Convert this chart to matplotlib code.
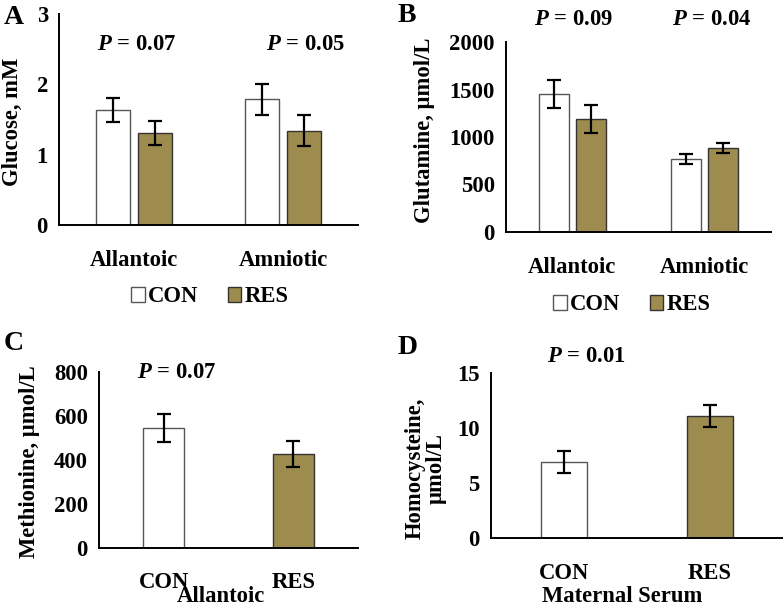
import matplotlib.pyplot as plt
from matplotlib.patches import Patch

plt.rcParams['font.family'] = ['Liberation Serif', 'DejaVu Serif']
plt.rcParams['font.weight'] = 'bold'
plt.rcParams['font.size'] = 16.3
plt.rcParams['mathtext.fontset'] = 'custom'
plt.rcParams['mathtext.bfit'] = 'Liberation Serif:italic:bold'
plt.rcParams['mathtext.it'] = 'Liberation Serif:italic:bold'

groups = ["CON", "RES"]
colors = ["white", "#9e8c4e"]
edges = ["#555555", "#333333"]

fluids = ["Allantoic", "Amniotic"]
glucose = [[1.63, 1.79], [1.31, 1.34]]
glucose_err = [[0.17, 0.22], [0.17, 0.22]]
glutamine = [[1450, 768], [1190, 885]]
glutamine_err = [[148, 52], [148, 57]]

methionine = [545, 427]
methionine_err = [62, 60]
homocysteine = [6.9, 11.1]
homocysteine_err = [1.0, 1.0]

W, H = 783, 613
fig = plt.figure(figsize=(W / 100, H / 100), dpi=100)


def axes_px(left, right, top, bottom):
    return fig.add_axes([left / W, 1 - bottom / H, (right - left) / W, (bottom - top) / H])


def ftext(x, y, s, **kw):
    fig.text(x / W, 1 - y / H, s, **kw)


def style(ax, ymax, yticks):
    ax.set_xlim(0, 2)
    ax.set_ylim(0, ymax)
    ax.set_yticks(yticks)
    for s in ["top", "right"]:
        ax.spines[s].set_visible(False)
    for s in ["left", "bottom"]:
        ax.spines[s].set_linewidth(1.4)
    ax.tick_params(length=0)
    ax.tick_params(axis="y", pad=8)


ekw = dict(ecolor="black", elinewidth=1.6, capsize=5, capthick=1.6)


def grouped(ax, vals, errs, bw, off):
    x = [0.5, 1.5]
    for i in range(2):
        ax.bar([v + (2 * i - 1) * off for v in x], vals[i], bw, yerr=errs[i],
               color=colors[i], edgecolor=edges[i], linewidth=1, error_kw=ekw)
    ax.set_xticks(x)
    ax.set_xticklabels(fluids)


def single(ax, vals, errs, bw):
    x = [0.5, 1.5]
    ax.bar(x, vals, bw, yerr=errs, color=colors, edgecolor=edges, linewidth=1, error_kw=ekw)
    ax.set_xticks(x)
    ax.set_xticklabels(groups)


# A
axA = axes_px(59, 358, 14, 225)
grouped(axA, glucose, glucose_err, 0.227, 0.14)
style(axA, 3, [0, 1, 2, 3])
axA.tick_params(axis="x", pad=18)
axA.text(0.52, 2.56, r"$\mathit{P}$ = 0.07", ha="center", va="center")
axA.text(1.65, 2.56, r"$\mathit{P}$ = 0.05", ha="center", va="center")
ftext(12, 122, "Glucose, mM", rotation=90, ha="center", va="center")
ftext(4, 18, "A", fontsize=20, ha="left", va="center")

# B
axB = axes_px(506, 771, 42, 232)
grouped(axB, glutamine, glutamine_err, 0.227, 0.14)
style(axB, 2000, [0, 500, 1000, 1500, 2000])
axB.tick_params(axis="x", pad=18)
axB.text(0.506, 2232, r"$\mathit{P}$ = 0.09", ha="center", va="center")
axB.text(1.555, 2232, r"$\mathit{P}$ = 0.04", ha="center", va="center")
ftext(424, 130, "Glutamine, µmol/L", rotation=90, ha="center", va="center")
ftext(398, 15, "B", fontsize=20, ha="left", va="center")

handles = [Patch(facecolor=colors[i], edgecolor=edges[i], label=groups[i]) for i in range(2)]
for cx, cy in [(210, 297), (632, 305)]:
    fig.legend(handles=handles, loc="center", bbox_to_anchor=(cx / W, 1 - cy / H), ncol=2,
               frameon=False, handlelength=0.6, handleheight=0.6, handletextpad=0.15,
               columnspacing=1.3, borderpad=0)

# C
axC = axes_px(99, 358, 372, 548)
single(axC, methionine, methionine_err, 0.316)
style(axC, 800, [0, 200, 400, 600, 800])
axC.tick_params(axis="x", pad=17)
axC.text(0.595, 800, r"$\mathit{P}$ = 0.07", ha="center", va="center")
ftext(30, 462, "Methionine, µmol/L", rotation=90, ha="center", va="center")
ftext(221, 597, "Allantoic", ha="center", va="center")
ftext(4, 343, "C", fontsize=20, ha="left", va="center")

# D
axD = axes_px(491, 783, 373, 538)
single(axD, homocysteine, homocysteine_err, 0.315)
style(axD, 15, [0, 5, 10, 15])
axD.tick_params(axis="x", pad=18)
axD.text(0.65, 16.5, r"$\mathit{P}$ = 0.01", ha="center", va="center", clip_on=False)
ftext(426, 468, "Homocysteine,\nµmol/L", rotation=90, ha="center", va="center",
      linespacing=1.0, multialignment="center")
ftext(622, 596, "Maternal Serum", ha="center", va="center")
ftext(398, 347, "D", fontsize=20, ha="left", va="center")

fig.savefig("out.png", dpi=100)
